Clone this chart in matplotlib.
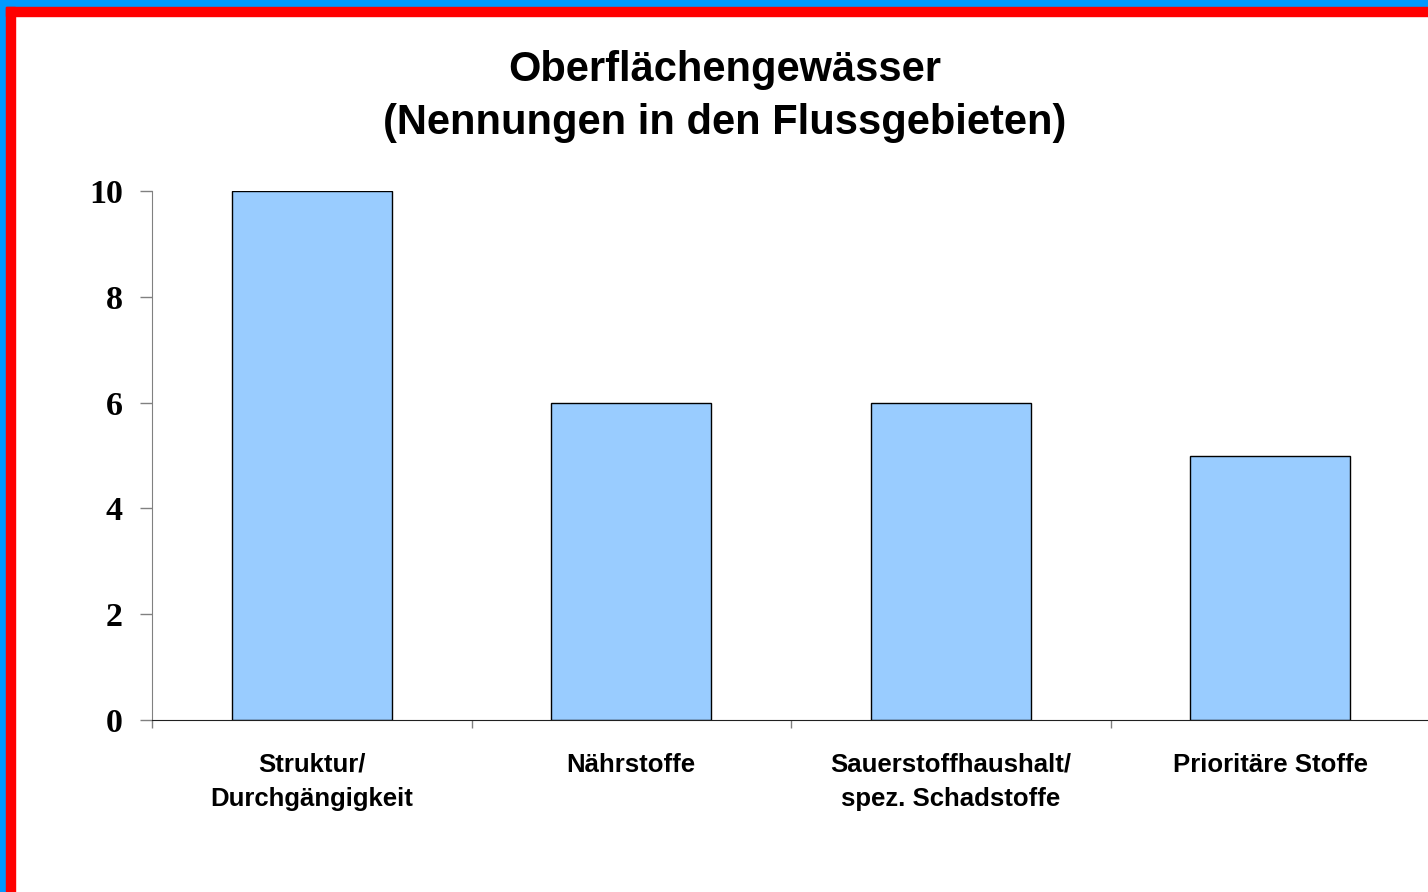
import matplotlib

matplotlib.use("Agg")
import matplotlib.pyplot as plt
from matplotlib.patches import Rectangle

categories = ["Struktur/\nDurchgängigkeit", "Nährstoffe",
              "Sauerstoffhaushalt/\nspez. Schadstoffe", "Prioritäre Stoffe"]
values = [10, 6, 6, 5]
yticks = [0, 2, 4, 6, 8, 10]

BAR = "#99CCFF"
BLUE = "#0099FF"
RED = "#FF0000"

W, H = 1428, 892
fig = plt.figure(figsize=(W / 100, H / 100), dpi=100)

# frame strips (blue outer, red inner) on the left and top edges
fig.patches.append(Rectangle((0, 0), 6 / W, 1, transform=fig.transFigure, color=BLUE, zorder=0))
fig.patches.append(Rectangle((0, 1 - 7 / H), 1, 7 / H, transform=fig.transFigure, color=BLUE, zorder=0))
fig.patches.append(Rectangle((6 / W, 0), 9 / W, 1 - 7 / H, transform=fig.transFigure, color=RED, zorder=1))
fig.patches.append(Rectangle((6 / W, 1 - 16 / H), 1, 9 / H, transform=fig.transFigure, color=RED, zorder=1))

ax = fig.add_axes([152 / W, 172 / H, 1278 / W, 529 / H])
x = range(len(values))
ax.bar(x, values, width=0.5, color=BAR, edgecolor="black", linewidth=1, zorder=2)

ax.set_xlim(-0.5, len(values) - 0.5)
ax.set_ylim(0, 10)
ax.spines["top"].set_visible(False)
ax.spines["right"].set_visible(False)
ax.spines["left"].set_color("#808080")
ax.spines["bottom"].set_color("#202020")

ax.set_yticks(yticks)
ax.set_yticklabels([str(v) for v in yticks], family="Liberation Serif",
                   fontweight="bold", fontsize=24.5)
ax.tick_params(axis="y", length=9, width=1, color="#808080", pad=12)

# boundaries as major ticks, labels on minor ticks at bar centres
ax.set_xticks([i - 0.5 for i in range(len(values) + 1)])
ax.set_xticklabels([])
ax.tick_params(axis="x", which="major", length=6, width=1, color="#808080")
ax.set_xticks(list(x), minor=True)
ax.set_xticklabels(categories, minor=True, family="Liberation Sans",
                   fontweight="bold", fontsize=18.5, linespacing=1.55)
ax.tick_params(axis="x", which="minor", length=0, pad=23.5)

fig.text(725 / W, 1 - 70 / H, "Oberflächengewässer", ha="center", va="center",
         family="Liberation Sans", fontweight="bold", fontsize=30)
fig.text(725 / W, 1 - 123 / H, "(Nennungen in den Flussgebieten)", ha="center", va="center",
         family="Liberation Sans", fontweight="bold", fontsize=30)

fig.savefig("out.png", dpi=100)
